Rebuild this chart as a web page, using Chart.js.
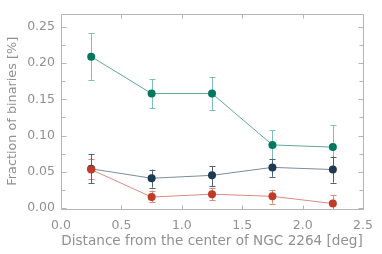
<!DOCTYPE html>
<html>
<head>
<meta charset="utf-8">
<script src="https://cdn.jsdelivr.net/npm/chart.js@4/dist/chart.umd.min.js"></script>
<style>
  html, body { margin: 0; padding: 0; background: #fff; }
  #wrap { width: 382px; height: 254px; }
</style>
</head>
<body>
<div id="wrap"><canvas id="binChart" width="382" height="254"></canvas></div>
<script>
// distance bins (deg)
const distance = [0.25, 0.75, 1.25, 1.75, 2.25];

// fraction of binaries, three samples, with error bar limits
const greenVals = [0.209, 0.158, 0.158, 0.087, 0.084];
const greenLow  = [0.177, 0.138, 0.135, 0.067, 0.054];
const greenHigh = [0.241, 0.178, 0.181, 0.107, 0.114];

const navyVals = [0.054, 0.041, 0.045, 0.056, 0.053];
const navyLow  = [0.034, 0.028, 0.030, 0.043, 0.035];
const navyHigh = [0.074, 0.053, 0.058, 0.068, 0.071];

const redVals = [0.053, 0.015, 0.019, 0.016, 0.006];
const redLow  = [0.040, 0.008, 0.011, 0.006, -0.002];
const redHigh = [0.067, 0.024, 0.028, 0.025, 0.018];

const xTicks = [0.0, 0.5, 1.0, 1.5, 2.0, 2.5];
const yTicks = [0.00, 0.05, 0.10, 0.15, 0.20, 0.25];

const FONT = 'DejaVu Sans';
const TEXT = '#909090';
const AXIS = '#b4b4b4';

function pts(vals) {
    return distance.map((d, i) => ({ x: d, y: vals[i] }));
}

// error bars, drawn under the lines and markers
const errorBars = {
    id: 'errorBars',
    beforeDatasetsDraw(chart) {
        const ctx = chart.ctx;
        const xs = chart.scales.x, ys = chart.scales.y;
        chart.data.datasets.forEach(ds => {
            ctx.save();
            ctx.strokeStyle = ds.errColor;
            ctx.lineWidth = 1;
            ds.low.forEach((lo, i) => {
                const px = Math.round(xs.getPixelForValue(distance[i])) + 0.5;
                const y1 = ys.getPixelForValue(lo);
                const y2 = ys.getPixelForValue(ds.high[i]);
                ctx.beginPath();
                ctx.moveTo(px, y1); ctx.lineTo(px, y2);
                ctx.moveTo(px - 3, Math.round(y1) + 0.5); ctx.lineTo(px + 3, Math.round(y1) + 0.5);
                ctx.moveTo(px - 3, Math.round(y2) + 0.5); ctx.lineTo(px + 3, Math.round(y2) + 0.5);
                ctx.stroke();
            });
            ctx.restore();
        });
    }
};

// box around the plot with inward ticks on all sides
const frame = {
    id: 'frame',
    afterDraw(chart) {
        const ctx = chart.ctx;
        const a = chart.chartArea;
        const xs = chart.scales.x, ys = chart.scales.y;
        ctx.save();
        ctx.strokeStyle = AXIS;
        ctx.lineWidth = 1;
        const L = Math.round(a.left) + 0.5, R = Math.round(a.right) + 0.5;
        const T = Math.round(a.top) + 0.5, B = Math.round(a.bottom) + 0.5;
        ctx.beginPath();
        ctx.rect(L, T, R - L, B - T);
        xTicks.forEach(v => {
            const px = Math.round(xs.getPixelForValue(v)) + 0.5;
            ctx.moveTo(px, B); ctx.lineTo(px, B - 4);
            ctx.moveTo(px, T); ctx.lineTo(px, T + 4);
        });
        yTicks.forEach((v, i) => {
            const py = Math.round(ys.getPixelForValue(v)) + 0.5;
            ctx.moveTo(L, py); ctx.lineTo(L + 5, py);
            ctx.moveTo(R, py); ctx.lineTo(R - 5, py);
            if (i < yTicks.length - 1) {
                const pm = Math.round(ys.getPixelForValue((v + yTicks[i + 1]) / 2)) + 0.5;
                ctx.moveTo(L, pm); ctx.lineTo(L + 4, pm);
                ctx.moveTo(R, pm); ctx.lineTo(R - 4, pm);
            }
        });
        ctx.stroke();
        ctx.restore();
    }
};

function series(vals, low, high, mark, line, err) {
    return {
        data: pts(vals),
        low: low,
        high: high,
        errColor: err,
        borderColor: line,
        borderWidth: 1,
        backgroundColor: mark,
        pointBackgroundColor: mark,
        pointBorderColor: mark,
        pointRadius: 4,
        pointBorderWidth: 0,
        tension: 0
    };
}

new Chart(document.getElementById('binChart').getContext('2d'), {
    type: 'line',
    data: {
        datasets: [
            series(greenVals, greenLow, greenHigh, '#00785f', '#5fa898', '#7fc0b2'),
            series(redVals, redLow, redHigh, '#c03a28', '#d88c80', '#da8a7a'),
            series(navyVals, navyLow, navyHigh, '#1e3a52', '#7a8c9a', '#4d6578')
        ]
    },
    options: {
        responsive: false,
        animation: false,
        layout: { padding: { left: 5, right: 11, top: 12, bottom: 0 } },
        plugins: { legend: { display: false }, tooltip: { enabled: false } },
        scales: {
            x: {
                type: 'linear',
                min: 0,
                max: 2.5,
                afterBuildTicks: s => { s.ticks = xTicks.map(v => ({ value: v })); },
                afterFit: s => { s.height = 45; },
                grid: { display: false, drawTicks: false },
                border: { display: false },
                ticks: {
                    color: TEXT,
                    font: { family: FONT, size: 12.5 },
                    padding: 9,
                    maxRotation: 0,
                    callback: v => v.toFixed(1)
                },
                title: {
                    display: true,
                    text: 'Distance from the center of NGC 2264 [deg]',
                    color: TEXT,
                    font: { family: FONT, size: 13.6 },
                    padding: { top: 0, bottom: 4 }
                }
            },
            y: {
                min: -0.0015,
                max: 0.2686,
                afterBuildTicks: s => { s.ticks = yTicks.map(v => ({ value: v })); },
                afterFit: s => { s.width = 56; },
                grid: { display: false, drawTicks: false },
                border: { display: false },
                ticks: {
                    color: TEXT,
                    font: { family: FONT, size: 12.5 },
                    padding: 6,
                    callback: v => v.toFixed(2)
                },
                title: {
                    display: true,
                    text: 'Fraction of binaries [%]',
                    color: TEXT,
                    font: { family: FONT, size: 12.8 },
                    padding: { top: 0, bottom: 0 }
                }
            }
        }
    },
    plugins: [errorBars, frame]
});
</script>
</body>
</html>
